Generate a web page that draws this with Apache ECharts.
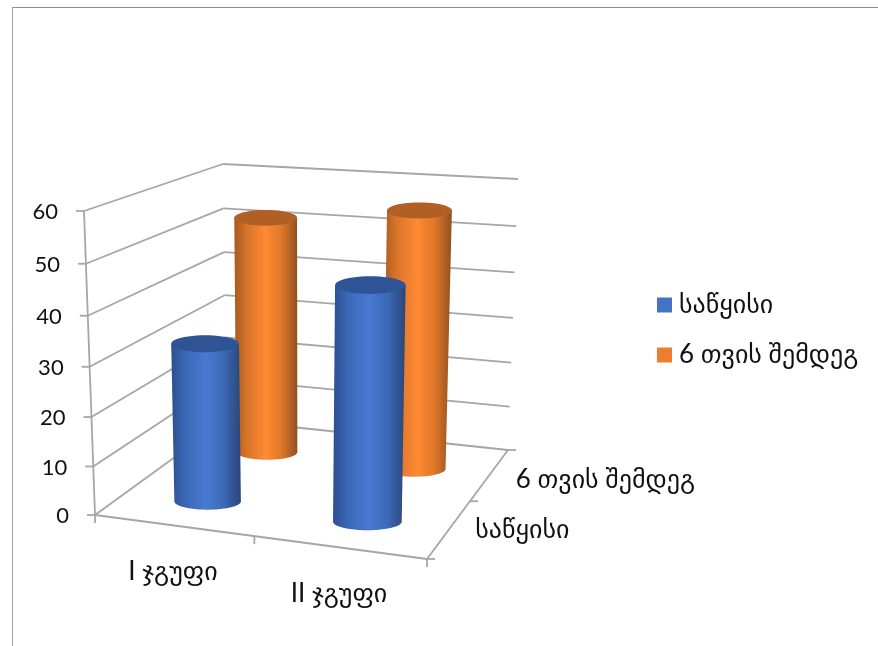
<!DOCTYPE html>
<html>
<head>
<meta charset="utf-8">
<style>html,body{margin:0;padding:0;background:#fff}#chart{width:878px;height:646px}</style>
<script src="https://cdn.jsdelivr.net/npm/echarts@6/dist/echarts.min.js"></script>
</head>
<body>
<div id="chart"></div>
<script>
// Data
const groups = ['I ჯგუფი', 'II ჯგუფი'];
const periods = ['საწყისი', '6 თვის შემდეგ'];
const initialValues = [32.6, 46.8];
const afterSixMonths = [52, 55.5];
const valueTicks = [0, 10, 20, 30, 40, 50, 60];

// Corners of the 3D box on screen: [group axis, depth axis, height]
const box = {
  floor: { fl: [95, 515], fr: [427, 559], bl: [226, 420], br: [508, 450] },
  roof:  { fl: [84, 211], fr: [434.5, 234], bl: [223, 164], br: [518, 179] }
};
const gridRect = { left: 95, top: 211, width: 332, height: 304 };
const FONT = 'Lato, "DejaVu Sans", sans-serif';
const LINE = { stroke: '#a6a6a6', lineWidth: 1.8 };
const TEXT = '#111';
const VALUE_SIZE = 22;
const NAME_SIZE = 26;

const mix = (a, b, t) => [a[0] + (b[0] - a[0]) * t, a[1] + (b[1] - a[1]) * t];
const quad = (q, u, d) => mix(mix(q.fl, q.fr, u), mix(q.bl, q.br, u), d);

// Maps box coordinates to the screen; h is stretched a little for foreshortening.
function project(u, d, h) {
  const k = h - 0.05 * h * (1 - h);
  return mix(quad(box.floor, u, d), quad(box.roof, u, d), k);
}

// Reads box coordinates from the hidden cartesian axes.
function toBox(api, groupIndex, value) {
  const p = api.coord([groupIndex, value]);
  return {
    u: (p[0] - gridRect.left) / gridRect.width,
    h: (gridRect.top + gridRect.height - p[1]) / gridRect.height
  };
}

const seg = (a, b) => ({
  type: 'line',
  shape: { x1: a[0], y1: a[1], x2: b[0], y2: b[1] },
  style: LINE
});
const label = (text, x, y, align, size) => ({
  type: 'text',
  style: { text, x, y, align, verticalAlign: 'middle', font: size + 'px ' + FONT, fill: TEXT }
});

// One level of the walls with its tick and value label.
function renderLevel(params, api) {
  const value = api.value(1);
  const h = toBox(api, 0, value).h;
  const a = project(0, 0, h), b = project(0, 1, h), c = project(1, 1, h);
  return {
    type: 'group',
    children: [
      seg(a, b), seg(b, c),
      seg([a[0] - 8, a[1]], a),
      label(String(value), a[0] - 26, a[1] + 1, 'right', VALUE_SIZE)
    ]
  };
}

// Floor edges, the front value axis and the group and period labels.
function renderFloor(params, api) {
  const children = [
    seg(project(0, 0, 0), project(1, 0, 0)),
    seg(project(1, 0, 0), project(1, 1, 0)),
    seg(project(0, 0, 0), project(0, 0, 1))
  ];
  [0, 0.48, 1].forEach(u => {
    const p = project(u, 0, 0);
    children.push(seg(p, [p[0], p[1] + 8]));
  });
  [0, 0.53, 1].forEach(d => {
    const p = project(1, d, 0);
    children.push(seg(p, [p[0] + 8, p[1]]));
  });
  groups.forEach((name, i) => {
    const p = project(toBox(api, i, 0).u, 0, 0);
    children.push(label(name, p[0] - 5, p[1] + 46, 'center', NAME_SIZE));
  });
  periods.forEach((name, i) => {
    const p = project(1, (i + 0.5) / periods.length, 0);
    children.push(label(name, p[0] + 28, p[1] + (i ? 2 : -2), 'left', NAME_SIZE));
  });
  return { type: 'group', children };
}

function ellipsePoints(c, rx, ry, from, to) {
  const pts = [];
  const n = 48;
  for (let i = 0; i <= n; i++) {
    const t = from + (to - from) * i / n;
    pts.push([c[0] + rx * Math.cos(t), c[1] + ry * Math.sin(t)]);
  }
  return pts;
}

// Builds a cylinder renderer for one row of the depth axis.
function renderCylinder(depthIndex, stops, topFill) {
  const d = (depthIndex + 0.5) / periods.length;
  return function (params, api) {
    const b = toBox(api, api.value(0), api.value(1));
    const base = project(b.u, d, 0);
    const top = project(b.u, d, b.h);
    const column = base[1] - project(b.u, d, 1)[1];
    const rxBase = column * 0.112;
    const rxTop = rxBase * (1 + 0.035 * b.h);
    const body = [].concat(
      [[top[0] - rxTop, top[1]]],
      ellipsePoints(base, rxBase, rxBase * 0.25, Math.PI, 0),
      [[top[0] + rxTop, top[1]]]
    );
    return {
      type: 'group',
      children: [
        {
          type: 'polygon',
          shape: { points: body },
          style: { fill: new echarts.graphic.LinearGradient(0, 0, 1, 0, stops) }
        },
        {
          type: 'polygon',
          shape: { points: ellipsePoints(top, rxTop, rxTop * 0.25, 0, Math.PI * 2) },
          style: { fill: topFill }
        }
      ]
    };
  };
}

const blueStops = [
  { offset: 0, color: '#2c4f8e' }, { offset: 0.2, color: '#3b67b6' },
  { offset: 0.5, color: '#487ad2' }, { offset: 0.75, color: '#3c69b8' },
  { offset: 1, color: '#2a4676' }
];
const orangeStops = [
  { offset: 0, color: '#a65a1f' }, { offset: 0.2, color: '#d8742b' },
  { offset: 0.5, color: '#ff8a33' }, { offset: 0.75, color: '#e07729' },
  { offset: 1, color: '#8d5120' }
];

const chart = echarts.init(document.getElementById('chart'), null, { renderer: 'canvas' });
chart.setOption({
  animation: false,
  backgroundColor: '#fff',
  grid: {
    left: gridRect.left, top: gridRect.top,
    width: gridRect.width, height: gridRect.height
  },
  xAxis: { type: 'category', data: groups, show: false },
  yAxis: { type: 'value', min: 0, max: 60, interval: 10, show: false },
  legend: {
    data: periods,
    orient: 'vertical',
    left: 652,
    top: 287,
    itemWidth: 15,
    itemHeight: 15,
    itemGap: 24,
    icon: 'rect',
    textStyle: { fontFamily: FONT, fontSize: NAME_SIZE, color: TEXT, lineHeight: 26, padding: [0, 0, 0, 2] },
    selectedMode: false
  },
  graphic: [
    { type: 'line', silent: true, shape: { x1: 12, y1: 7.5, x2: 878, y2: 7.5 }, style: { stroke: '#8c8c8c', lineWidth: 1 } },
    { type: 'line', silent: true, shape: { x1: 12.5, y1: 7, x2: 12.5, y2: 646 }, style: { stroke: '#a0a0a0', lineWidth: 1 } }
  ],
  series: [
    {
      name: 'walls', type: 'custom', z: 1, silent: true,
      renderItem: renderLevel,
      encode: { x: 0, y: 1 },
      data: valueTicks.map(v => [0, v])
    },
    {
      name: 'floor', type: 'custom', z: 1, silent: true,
      renderItem: renderFloor,
      encode: { x: 0, y: 1 },
      data: [[0, 0]]
    },
    {
      name: periods[0], type: 'custom', z: 3,
      itemStyle: { color: '#4472c4' },
      renderItem: renderCylinder(0, blueStops, '#2f5496'),
      encode: { x: 0, y: 1 },
      data: initialValues.map((v, i) => [i, v])
    },
    {
      name: periods[1], type: 'custom', z: 2,
      itemStyle: { color: '#ed7d31' },
      renderItem: renderCylinder(1, orangeStops, '#b25f25'),
      encode: { x: 0, y: 1 },
      data: afterSixMonths.map((v, i) => [i, v])
    }
  ]
});
</script>
</body>
</html>
